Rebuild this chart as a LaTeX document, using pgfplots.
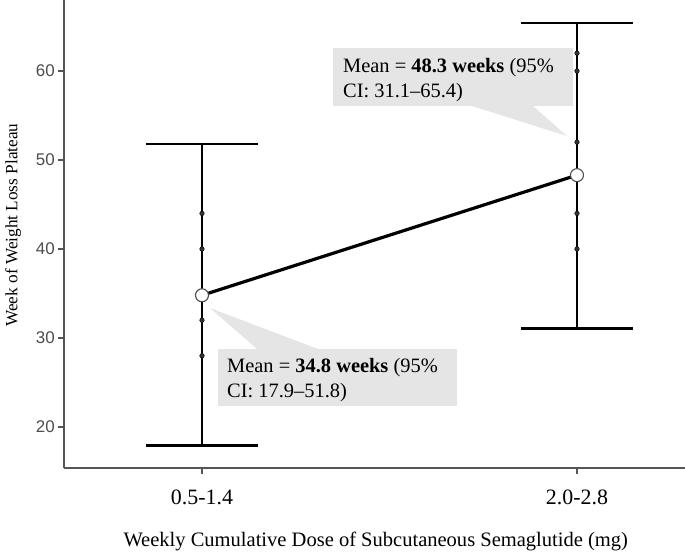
\documentclass[border=0pt]{standalone}
\usepackage{fontspec}
\setmainfont{Liberation Serif}
\newfontfamily\sansf{Liberation Sans}
\usepackage{pgfplots}
\pgfplotsset{compat=1.18}
\usepackage{pgfplotstable}

\definecolor{boxgray}{HTML}{E5E5E5}
\definecolor{axgray}{HTML}{555555}
\definecolor{tickgray}{HTML}{4D4D4D}

% mean and 95% CI per dose group
\pgfplotstableread{
x  mean  ep    em
1  34.8  17.0  16.9
2  48.3  17.1  17.2
}\means

\begin{document}
\begin{tikzpicture}
\useasboundingbox (-64bp,-84bp) rectangle (621bp,468bp);

% callout boxes
\fill[boxgray] (146bp,160bp) -- (193bp,119bp) -- (254bp,119bp) -- cycle;
\fill[boxgray] (154bp,62bp) rectangle (393bp,119bp);
\node[anchor=base west, inner sep=0pt, font=\fontsize{20.5}{24}\selectfont] at (163bp,95bp) {Mean = \textbf{34.8 weeks} (95\%};
\node[anchor=base west, inner sep=0pt, font=\fontsize{20.5}{24}\selectfont] at (163bp,70bp) {CI: 17.9–51.8)};

\fill[boxgray] (503bp,332bp) -- (408bp,362bp) -- (469bp,362bp) -- cycle;
\fill[boxgray] (269bp,362bp) rectangle (509bp,420bp);
\node[anchor=base west, inner sep=0pt, font=\fontsize{20.5}{24}\selectfont] at (279bp,395bp) {Mean = \textbf{48.3 weeks} (95\%};
\node[anchor=base west, inner sep=0pt, font=\fontsize{20.5}{24}\selectfont] at (279bp,370bp) {CI: 31.1–65.4)};

\begin{axis}[
  at={(0,0)}, anchor=south west,
  scale only axis, width=621bp, height=468bp,
  xmin=0.632, xmax=2.288, ymin=15.39, ymax=67.98,
  axis lines=left,
  axis line style={-, draw=axgray, line width=1.5bp},
  tick align=outside,
  major tick length=6bp,
  tick style={draw=axgray, line width=1.5bp},
  xtick={1,2}, xticklabels={0.5-1.4,2.0-2.8},
  ytick={20,30,40,50,60},
  /pgf/number format/assume math mode=true,
  yticklabel style={font=\sansf\fontsize{17}{17}\selectfont, text=tickgray, inner sep=1bp, xshift=-2bp},
  xticklabel style={font=\fontsize{22}{22}\selectfont, anchor=base, yshift=-30bp},
  xlabel={Weekly Cumulative Dose of Subcutaneous Semaglutide (mg)},
  ylabel={Week of Weight Loss Plateau},
  xlabel style={font=\fontsize{20.6}{22}\selectfont, at={(axis description cs:0.502,-0.1688)}, anchor=base},
  ylabel style={font=\fontsize{17.3}{20}\selectfont, at={(axis description cs:-0.082,0.519)}, anchor=center},
  clip=false,
]
% confidence interval bars
\addplot[only marks, mark=none,
  error bars/.cd, y dir=both, y explicit,
  error bar style={draw=black, line width=2.5bp, solid},
  error mark options={draw=black, line width=2.8bp, mark size=55.6bp, rotate=90}]
  table[x=x, y=mean, y error plus=ep, y error minus=em] {\means};
% line joining the means
\addplot[black, line width=3.2bp, mark=none] table[x=x, y=mean] {\means};
% individual observations
\addplot[only marks, mark=*, mark size=2.3bp, draw=none, fill=black!80]
  coordinates {(1,44) (1,40) (1,32) (1,28) (2,62) (2,60) (2,52) (2,44) (2,40)};
% group means
\addplot[only marks, mark=*, mark size=6.5bp, mark options={fill=white, draw=black!70, line width=1.1bp}]
  table[x=x, y=mean] {\means};
\end{axis}
\end{tikzpicture}
\end{document}
